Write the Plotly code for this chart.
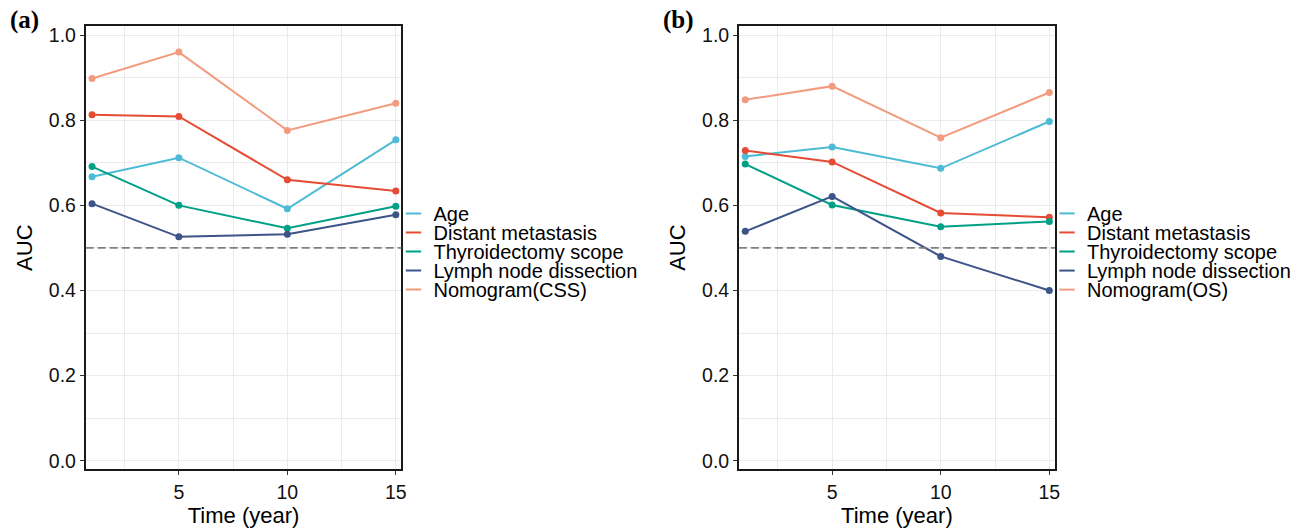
import plotly.graph_objects as go

years = [1, 5, 10, 15]
series_names = ["Age", "Distant metastasis", "Thyroidectomy scope", "Lymph node dissection"]
colors = ["#4DBBD5", "#E64B35", "#00A087", "#3C5488", "#F39B7F"]

# Panel (a): CSS
age_a = [0.667, 0.712, 0.592, 0.754]
distant_a = [0.813, 0.809, 0.660, 0.634]
thyroid_a = [0.691, 0.600, 0.546, 0.598]
lymph_a = [0.604, 0.526, 0.532, 0.578]
nomogram_a = [0.898, 0.960, 0.776, 0.840]

# Panel (b): OS
age_b = [0.715, 0.737, 0.687, 0.797]
distant_b = [0.729, 0.702, 0.582, 0.572]
thyroid_b = [0.697, 0.601, 0.550, 0.562]
lymph_b = [0.539, 0.621, 0.480, 0.400]
nomogram_b = [0.848, 0.880, 0.759, 0.865]

x_ticks = [5, 10, 15]
x_minor = [2.5, 7.5, 12.5]
y_ticks = [0.0, 0.2, 0.4, 0.6, 0.8, 1.0]
y_tick_labels = ["0.0", "0.2", "0.4", "0.6", "0.8", "1.0"]
y_minor = [0.1, 0.3, 0.5, 0.7, 0.9]
ref_auc = 0.5

W, H = 1310, 532
FONT = "Liberation Sans, Arial, sans-serif"

panels = [
    dict(tag="(a)", data=[age_a, distant_a, thyroid_a, lymph_a, nomogram_a],
         names=series_names + ["Nomogram(CSS)"], ax="", x0=86, x1=403),
    dict(tag="(b)", data=[age_b, distant_b, thyroid_b, lymph_b, nomogram_b],
         names=series_names + ["Nomogram(OS)"], ax="2", x0=741.7, x1=1059),
]
plot_top, plot_bottom = 24, 471
legend_rows = [213, 232.2, 251.4, 270.6, 289.8]

fig = go.Figure()
layout = dict(width=W, height=H, margin=dict(l=0, r=0, t=0, b=0),
              paper_bgcolor="white", plot_bgcolor="white",
              font=dict(family=FONT, color="#1a1a1a"),
              shapes=[], annotations=[])

leg_idx = 0
for p in panels:
    xa = "x" + p["ax"]
    ya = "y" + p["ax"]
    for vals, name, col in zip(p["data"], p["names"], colors):
        fig.add_trace(go.Scatter(x=years, y=vals, mode="lines+markers", name=name,
                                 line=dict(color=col, width=2),
                                 marker=dict(color=col, size=7),
                                 xaxis=xa, yaxis=ya, showlegend=False))
    for i, (name, col) in enumerate(zip(p["names"], colors)):
        leg_idx += 1
        lname = "legend" if leg_idx == 1 else f"legend{leg_idx}"
        fig.add_trace(go.Scatter(x=[None], y=[None], mode="markers", name=name,
                                 marker=dict(symbol="line-ew", size=11, color=col,
                                             line=dict(color=col, width=2)),
                                 xaxis=xa, yaxis=ya, showlegend=True, legend=lname))
        layout[lname] = dict(x=(p["x1"] - 8) / W, y=1 - legend_rows[i] / H,
                             xanchor="left", yanchor="middle",
                             bgcolor="rgba(0,0,0,0)", borderwidth=0,
                             font=dict(size=20, family=FONT, color="#000000"),
                             itemwidth=30, itemclick=False)
    dom_x = [p["x0"] / W, p["x1"] / W]
    dom_y = [1 - plot_bottom / H, 1 - plot_top / H]
    layout["xaxis" + p["ax"]] = dict(
        domain=dom_x, range=[0.706, 15.26], anchor=ya,
        tickvals=x_ticks, ticktext=[str(t) for t in x_ticks],
        ticks="outside", ticklen=4, tickwidth=1.2, tickcolor="#333333",
        tickfont=dict(size=19.5, color="#111111"),
        showline=True, linecolor="#1a1a1a", linewidth=1.6, mirror=True,
        showgrid=True, gridcolor="#EBEBEB", gridwidth=1.4, zeroline=False,
        minor=dict(tickvals=x_minor, showgrid=True, gridcolor="#EBEBEB", gridwidth=0.8, ticks=""),
        title=dict(text="Time (year)", font=dict(size=22, color="#000000"), standoff=2),
    )
    layout["yaxis" + p["ax"]] = dict(
        domain=dom_y, range=[-0.0203, 1.0217], anchor=xa,
        tickvals=y_ticks, ticktext=y_tick_labels,
        ticks="outside", ticklen=4, tickwidth=1.2, tickcolor="#333333",
        tickfont=dict(size=19.5, color="#111111"),
        showline=True, linecolor="#1a1a1a", linewidth=1.6, mirror=True,
        showgrid=True, gridcolor="#EBEBEB", gridwidth=1.4, zeroline=False,
        minor=dict(tickvals=y_minor, showgrid=True, gridcolor="#EBEBEB", gridwidth=0.8, ticks=""),
        title=dict(text="AUC", font=dict(size=22, color="#000000"), standoff=10),
    )
    layout["shapes"].append(dict(type="line", xref=xa + " domain", yref=ya,
                                 x0=0, x1=1, y0=ref_auc, y1=ref_auc,
                                 line=dict(color="#7F7F7F", width=1.8, dash="8px,4px"),
                                 layer="above"))
    layout["annotations"].append(dict(text="<b>" + p["tag"] + "</b>", xref="paper", yref="paper",
                                      x=(p["x0"] - 78) / W, y=1 - 18 / H,
                                      xanchor="left", yanchor="middle", showarrow=False,
                                      font=dict(family="Liberation Serif, Times New Roman, serif",
                                                size=25, color="#000000")))

fig.update_layout(**layout)
fig.write_html("out.html")
